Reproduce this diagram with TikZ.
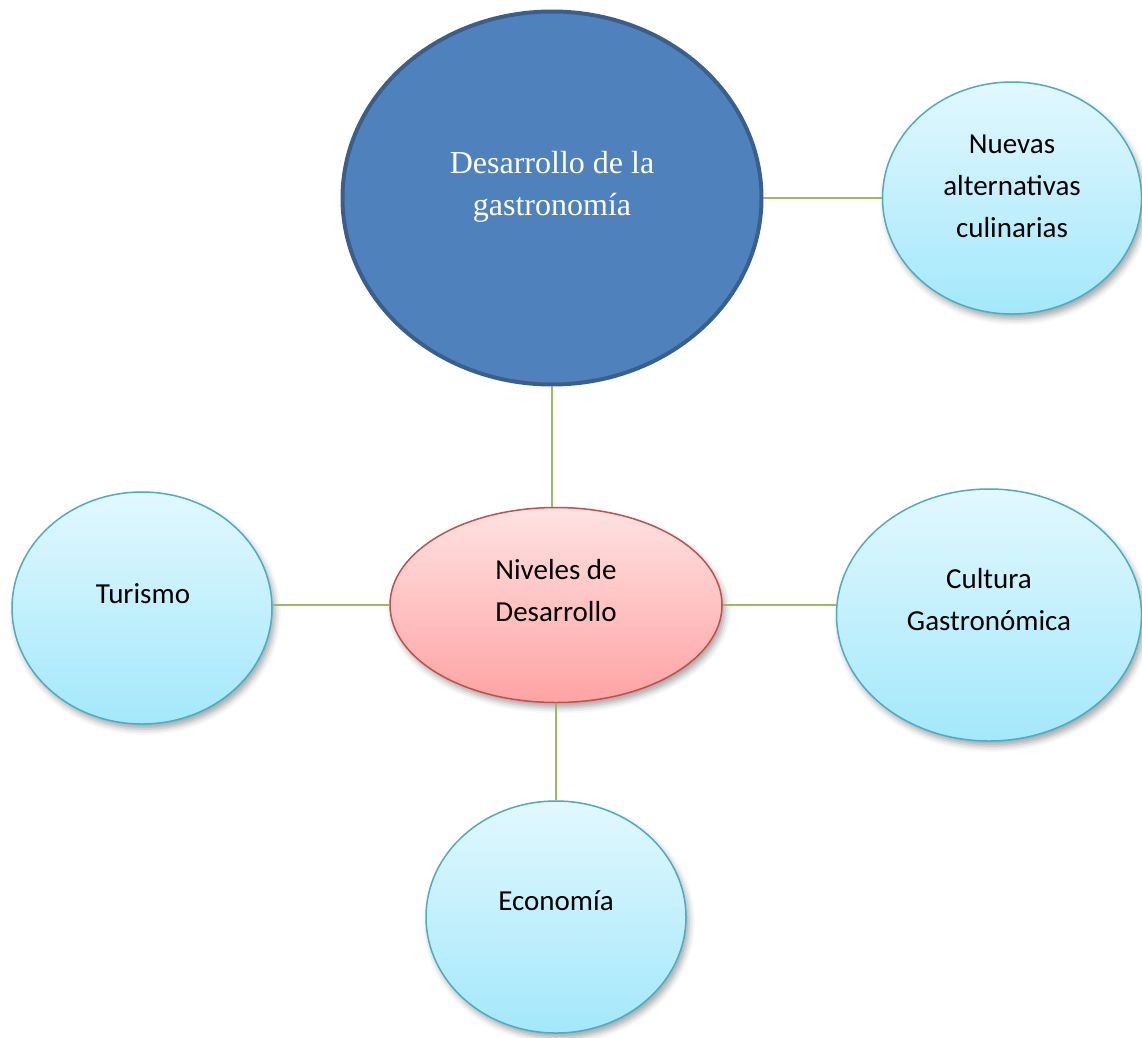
\documentclass[tikz,border=0pt]{standalone}
\usepackage{fontspec}
\setmainfont{Carlito}
\newfontfamily\serifface{Liberation Serif}
\usetikzlibrary{shapes.geometric,shadows.blur}
\definecolor{bigfill}{HTML}{4F81BD}
\definecolor{bigline}{HTML}{3A5F8C}
\definecolor{bluetop}{HTML}{E2F8FE}
\definecolor{bluebot}{HTML}{A3E8FB}
\definecolor{blueline}{HTML}{4BACC6}
\definecolor{pinktop}{HTML}{FFE2E2}
\definecolor{pinkbot}{HTML}{FFA3A3}
\definecolor{pinkline}{HTML}{C0504D}
\definecolor{linkgreen}{HTML}{9BBB59}
\tikzset{
  bubble/.style={ellipse, inner sep=0pt, draw=blueline, line width=1.5pt,
    top color=bluetop, bottom color=bluebot,
    blur shadow={shadow xshift=3pt, shadow yshift=-5pt, shadow blur radius=6pt, shadow opacity=35}},
  pinkbubble/.style={ellipse, inner sep=0pt, draw=pinkline, line width=1.5pt,
    top color=pinktop, bottom color=pinkbot,
    blur shadow={shadow xshift=3pt, shadow yshift=-5pt, shadow blur radius=6pt, shadow opacity=35}},
  bigbubble/.style={ellipse, inner sep=0pt, draw=bigline, line width=4pt, fill=bigfill},
  lbl/.style={inner sep=0pt, anchor=base, align=center, font=\fontsize{29}{42}\selectfont},
  biglbl/.style={inner sep=0pt, anchor=base, align=center, text=white, font=\serifface\fontsize{32}{42}\selectfont},
  link/.style={draw=linkgreen, line width=2pt}
}
\begin{document}
\begin{tikzpicture}[x=1pt,y=-1pt]
\useasboundingbox (0,0) rectangle (1142,1037);
% shapes
\node[bigbubble, minimum width=419pt, minimum height=373pt] (big) at (552,198) {};
\node[bubble, minimum width=259pt, minimum height=232pt] (nuevas) at (1012,198) {};
\node[pinkbubble, minimum width=332pt, minimum height=195pt] (niveles) at (556,605) {};
\node[bubble, minimum width=260pt, minimum height=232pt] (turismo) at (142,608) {};
\node[bubble, minimum width=305pt, minimum height=252pt] (cultura) at (989,615) {};
\node[bubble, minimum width=260pt, minimum height=232pt] (economia) at (556,917) {};
% connectors
\draw[link] (big.east) -- (nuevas.west);
\draw[link] (big.south) -- (big.south |- niveles.north);
\draw[link] (niveles.west) -- (niveles.west -| turismo.east);
\draw[link] (niveles.east) -- (niveles.east -| cultura.west);
\draw[link] (niveles.south) -- (economia.north);
% labels (anchor base = baseline of the last line)
\node[biglbl] (tbig) at (552,215) {Desarrollo de la\\gastronomía};
\node[lbl] (tnuevas) at (1012,237) {Nuevas\\alternativas\\culinarias};
\node[lbl] (tniveles) at (556,621) {Niveles de\\Desarrollo};
\node[lbl] (tturismo) at (143,603) {Turismo};
\node[lbl] (tcultura) at (989,630) {Cultura\\Gastronómica};
\node[lbl] (teconomia) at (556,910) {Economía};
\end{tikzpicture}
\end{document}
